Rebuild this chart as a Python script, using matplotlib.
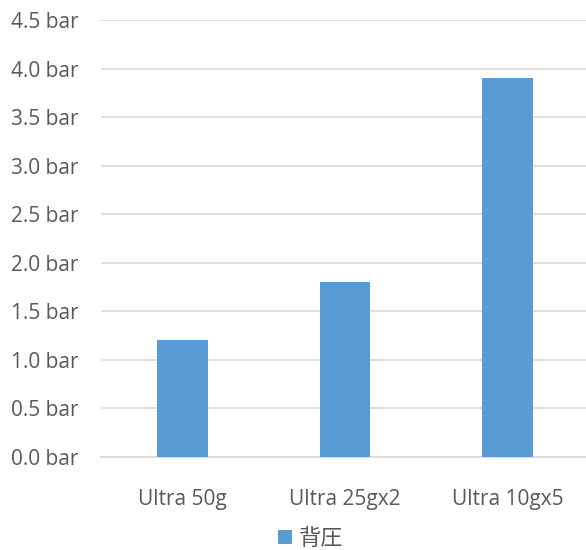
import matplotlib.pyplot as plt
import numpy as np

# data
categories = ["Ultra 50g", "Ultra 25gx2", "Ultra 10gx5"]
pressure = [1.2, 1.8, 3.9]
series_name = "背圧"
yticks = [0.0, 0.5, 1.0, 1.5, 2.0, 2.5, 3.0, 3.5, 4.0, 4.5]

plt.rcParams['font.family'] = ['Open Sans', 'Noto Sans CJK JP', 'DejaVu Sans']

fig = plt.figure(figsize=(5.86, 5.5), dpi=100)
ax = fig.add_axes([101/586, 1 - 457/550, 488/586, 437/550])

x = np.arange(len(categories))
ax.bar(x, pressure, width=0.31, color="#5B9BD5", label=series_name, zorder=3)

ax.set_xlim(-0.5, len(categories) - 0.5)
ax.set_ylim(0, 4.5)
ax.set_yticks(yticks)
ax.set_yticklabels(["%.1f bar" % v for v in yticks])
ax.set_xticks(x)
ax.set_xticklabels(categories)

ax.grid(axis="y", color="#D9D9D9", linewidth=1.2, zorder=0)
for s in ["top", "right", "left"]:
    ax.spines[s].set_visible(False)
ax.spines["bottom"].set_color("#D9D9D9")
ax.spines["bottom"].set_linewidth(1.2)
ax.tick_params(length=0, labelsize=15, colors="#595959")
ax.tick_params(axis="y", pad=16)
ax.tick_params(axis="x", pad=23)

leg = fig.legend(loc="center", bbox_to_anchor=(0.53, 1 - 538/550), frameon=False,
                 handlelength=0.6, handleheight=0.6, handletextpad=0.3,
                 borderpad=0.0,
                 prop={'family': ['Noto Sans CJK JP'], 'size': 16})
for t in leg.get_texts():
    t.set_color("#595959")

fig.savefig("out.png", dpi=100)
